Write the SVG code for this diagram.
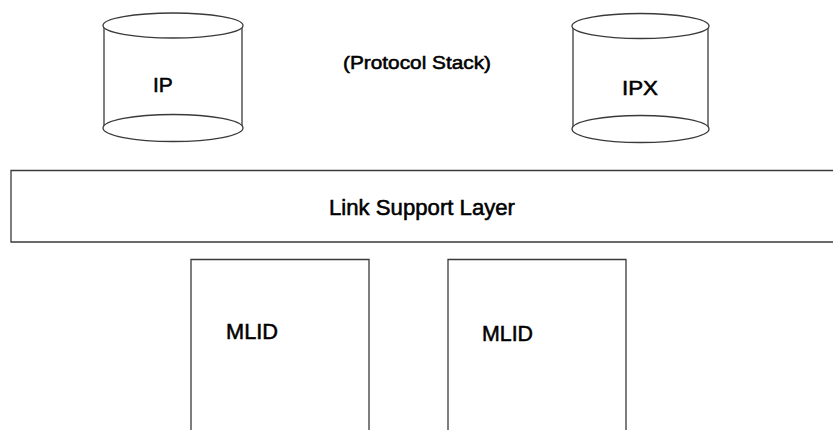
<svg xmlns="http://www.w3.org/2000/svg" width="833" height="430" viewBox="0 0 833 430">
  <style>
    .ln { fill: none; stroke: #3a3a3a; stroke-width: 1.3; }
    .fillw { fill: #ffffff; stroke: #3a3a3a; stroke-width: 1.3; }
    .lbl { font-family: "Liberation Sans", Arial, sans-serif; fill: #000; stroke: #000; stroke-width: 0.55; }
  </style>
  <rect width="833" height="430" fill="#ffffff"/>

  <!-- protocol stack: IP -->
  <g id="ip">
    <line class="ln" x1="104" y1="26" x2="104" y2="128"/>
    <line class="ln" x1="242" y1="26" x2="242" y2="128"/>
    <ellipse class="fillw" cx="173" cy="128" rx="70" ry="13.5"/>
    <ellipse class="fillw" cx="173" cy="25.5" rx="70" ry="12.5"/>
    <text class="lbl" x="153" y="92" font-size="21">IP</text>
  </g>

  <!-- protocol stack: IPX -->
  <g id="ipx">
    <line class="ln" x1="573" y1="26" x2="573" y2="129"/>
    <line class="ln" x1="708" y1="26" x2="708" y2="129"/>
    <ellipse class="fillw" cx="640.5" cy="129" rx="68.5" ry="13.5"/>
    <ellipse class="fillw" cx="640.5" cy="26" rx="68.5" ry="12.5"/>
    <text class="lbl" x="622" y="95" font-size="21" textLength="36" lengthAdjust="spacingAndGlyphs">IPX</text>
  </g>

  <!-- caption -->
  <g id="protocol-stack">
    <text class="lbl" x="343" y="69" font-size="19" textLength="148" lengthAdjust="spacingAndGlyphs">(Protocol Stack)</text>
  </g>

  <!-- Link Support Layer band, open on the right -->
  <g id="lsl">
    <path class="ln" d="M833 170.5 H11 V242 H833"/>
    <text class="lbl" x="329" y="215" font-size="22" textLength="186" lengthAdjust="spacingAndGlyphs">Link Support Layer</text>
  </g>

  <!-- MLID drivers, open at the bottom -->
  <g id="mlid1">
    <path class="ln" d="M191 430 V259.5 H369 V430"/>
    <text class="lbl" x="226" y="339" font-size="22" textLength="52" lengthAdjust="spacingAndGlyphs">MLID</text>
  </g>
  <g id="mlid2">
    <path class="ln" d="M448 430 V259.5 H626 V430"/>
    <text class="lbl" x="482" y="341" font-size="22" textLength="51" lengthAdjust="spacingAndGlyphs">MLID</text>
  </g>

  <g id="connectors"/>
</svg>
